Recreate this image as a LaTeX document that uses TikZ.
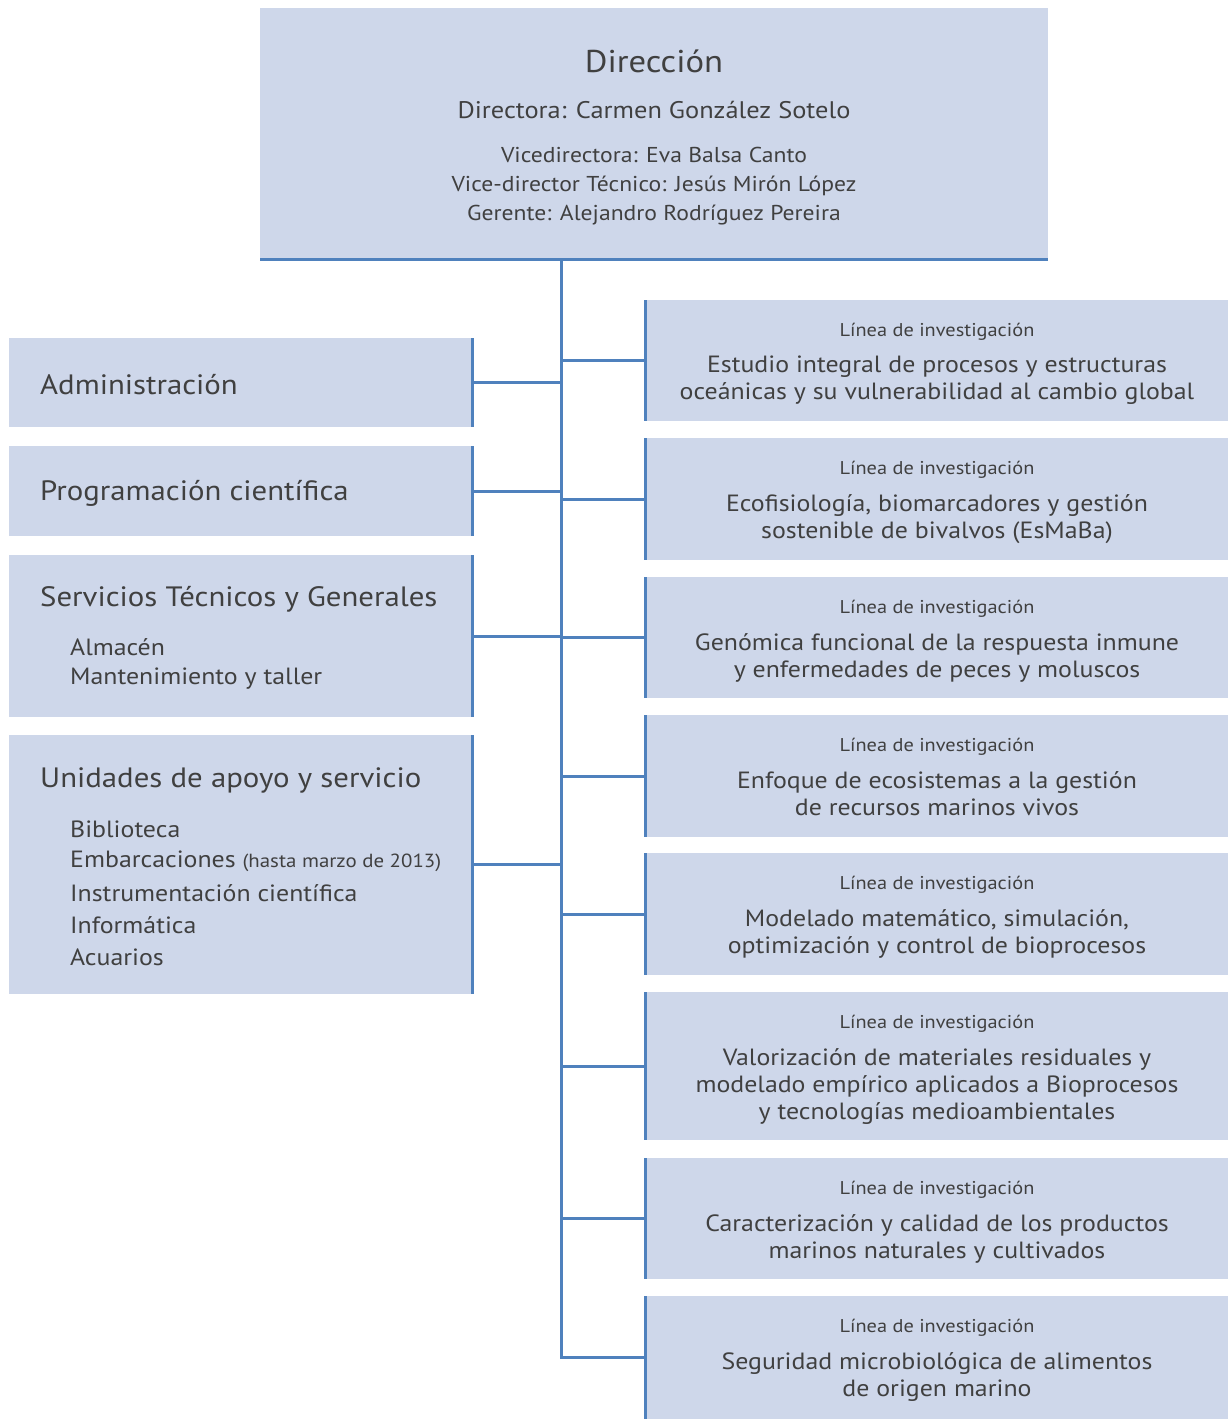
\documentclass[tikz,border=0pt]{standalone}
\usepackage{fontspec}
\setmainfont[FakeStretch=1.1]{PT Sans}
\definecolor{boxfill}{HTML}{CED7EA}
\definecolor{lineblue}{HTML}{4F81BD}
\definecolor{txt}{HTML}{404040}
\tikzset{
  box/.style={fill=boxfill, draw=none, inner sep=0pt, anchor=north west},
  conn/.style={draw=lineblue, line width=3pt},
  edge/.style={draw=lineblue, line width=3pt},
  tx/.style={text=txt, inner sep=0pt},
  big/.style={tx, font=\fontsize{28}{32}\selectfont, anchor=west},
  sub/.style={tx, font=\fontsize{23.5}{32}\selectfont, anchor=west},
  lin/.style={tx, font=\fontsize{18.5}{22}\selectfont},
  ttl/.style={tx, font=\fontsize{23.5}{27}\selectfont, align=center, anchor=north},
}
\begin{document}
\begin{tikzpicture}[x=1pt,y=-1pt]
\useasboundingbox (0,0) rectangle (1228,1419);
% Direction box
\node[box, minimum width=788pt, minimum height=251pt] (dir) at (260,8) {};
\draw[edge] (dir.south west) -- (dir.south east);
\node[tx, font=\fontsize{31.5}{36}\selectfont] (dirt) at (654,61) {Dirección};
\node[tx, font=\fontsize{24}{28}\selectfont] (dira) at (654,110) {Directora: Carmen González Sotelo};
\node[tx, font=\fontsize{21.5}{29}\selectfont, align=center, anchor=north] (dirb) at (654,147) {Vicedirectora: Eva Balsa Canto\\Vice-director Técnico: Jesús Mirón López\\Gerente: Alejandro Rodríguez Pereira};
% trunk
\coordinate (ttop) at (561,259);
\coordinate (tbot) at (561,1359);
\draw[conn] (ttop) -- (tbot);
% left boxes
\node[box, minimum width=463pt, minimum height=89pt] (adm) at (9,338) {};
\node[box, minimum width=463pt, minimum height=90pt] (prog) at (9,446) {};
\node[box, minimum width=463pt, minimum height=162pt] (serv) at (9,555) {};
\node[box, minimum width=463pt, minimum height=259pt] (unid) at (9,735) {};
\foreach \n in {adm,prog,serv,unid}{
  \draw[edge] (\n.north east) -- (\n.south east);
  \draw[conn] (\n.east) -- (\n.east -| ttop);
}
\node[big] (admt) at (40,385) {Administración};
\node[big] (progt) at (40,493) {Programación científica};
\node[big] (servt) at (40,599) {Servicios Técnicos y Generales};
\node[sub] (serv1) at (70,647) {Almacén};
\node[sub] (serv2) at (70,679) {Mantenimiento y taller};
\node[big] (unidt) at (40,780) {Unidades de apoyo y servicio};
\node[sub] (unid1) at (70,829) {Biblioteca};
\node[sub] (unid2) at (70,861) {Embarcaciones {\fontsize{19}{22}\selectfont(hasta marzo de 2013)}};
\node[sub] (unid3) at (70,893) {Instrumentación científica};
\node[sub] (unid4) at (70,925) {Informática};
\node[sub] (unid5) at (70,957) {Acuarios};
% right boxes
\foreach \n/\t/\h/\txt in {
 r1/300/121/{Estudio integral de procesos y estructuras\\oceánicas y su vulnerabilidad al cambio global},
 r2/438/122/{Ecofisiología, biomarcadores y gestión\\sostenible de bivalvos (EsMaBa)},
 r3/577/121/{Genómica funcional de la respuesta inmune\\y enfermedades de peces y moluscos},
 r4/715/122/{Enfoque de ecosistemas a la gestión\\de recursos marinos vivos},
 r5/853/122/{Modelado matemático, simulación,\\optimización y control de bioprocesos},
 r6/992/148/{Valorización de materiales residuales y\\modelado empírico aplicados a Bioprocesos\\y tecnologías medioambientales},
 r7/1158/121/{Caracterización y calidad de los productos\\marinos naturales y cultivados},
 r8/1296/123/{Seguridad microbiológica de alimentos\\de origen marino}}{
  \node[box, minimum width=583pt, minimum height=\h pt] (\n) at (645,\t) {};
  \draw[edge] (\n.north west) -- (\n.south west);
  \draw[conn] (\n.west) -- (\n.west -| ttop);
  \node[lin] (\n l) at (937,\t+32) {Línea de investigación};
  \node[ttl] (\n t) at (937,\t+56) {\txt};
}
\end{tikzpicture}
\end{document}
